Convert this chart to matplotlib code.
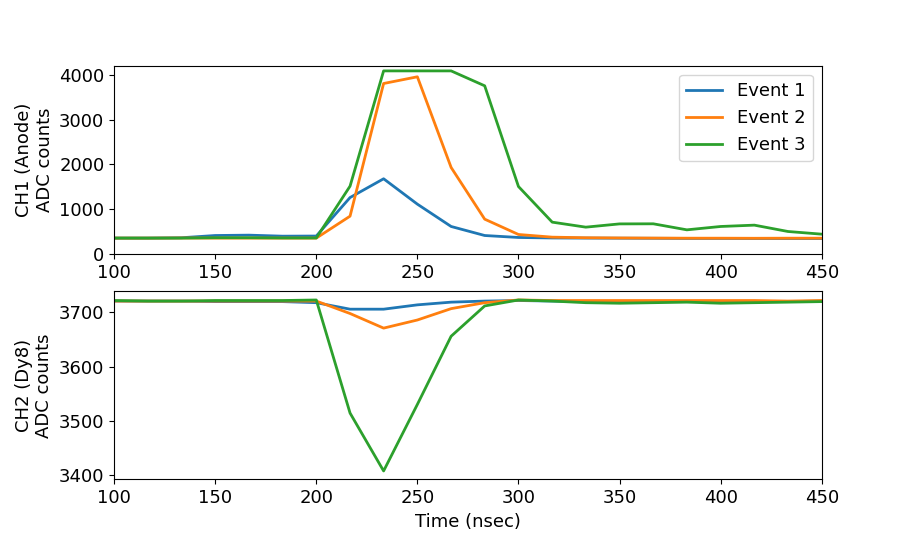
import numpy as np
import matplotlib
matplotlib.use("Agg")
import matplotlib.pyplot as plt

# time samples (nsec), 60 MHz sampling
time_ns = [100.0, 116.7, 133.3, 150.0, 166.7, 183.3, 200.0, 216.7, 233.3, 250.0, 266.7,
           283.3, 300.0, 316.7, 333.3, 350.0, 366.7, 383.3, 400.0, 416.7, 433.3, 450.0]

ch1_event1 = [352, 352, 360, 410, 418, 395, 398, 1260, 1680, 1112, 612,
              410, 366, 355, 352, 350, 348, 345, 345, 343, 343, 343]
ch1_event2 = [352, 352, 355, 352, 352, 352, 352, 843, 3813, 3963, 1933,
              776, 433, 373, 360, 355, 352, 350, 350, 348, 350, 350]
ch1_event3 = [352, 352, 352, 360, 360, 355, 355, 1515, 4095, 4095, 4095,
              3761, 1507, 709, 597, 670, 672, 537, 612, 642, 500, 440]

ch2_event1 = [3721, 3721, 3721, 3720, 3720, 3720, 3718, 3706, 3706, 3714, 3719,
              3721, 3722, 3721, 3720, 3720, 3720, 3720, 3720, 3720, 3720, 3721]
ch2_event2 = [3721, 3721, 3721, 3721, 3721, 3721, 3721, 3698, 3671, 3686, 3707,
              3718, 3723, 3722, 3722, 3722, 3722, 3722, 3722, 3722, 3721, 3722]
ch2_event3 = [3722, 3721, 3721, 3722, 3722, 3722, 3723, 3514, 3407, 3530, 3656,
              3712, 3723, 3721, 3718, 3717, 3718, 3719, 3717, 3718, 3719, 3720]

labels = ["Event 1", "Event 2", "Event 3"]
colors = ["#1f77b4", "#ff7f0e", "#2ca02c"]
FS = 13

fig, (ax1, ax2) = plt.subplots(2, 1, figsize=(9.13, 5.48), dpi=100)
fig.subplots_adjust(left=0.125, right=0.9, top=0.88, bottom=0.125, hspace=0.2)

for y, lab, c in zip([ch1_event1, ch1_event2, ch1_event3], labels, colors):
    ax1.plot(time_ns, y, color=c, lw=2, label=lab)
for y, lab, c in zip([ch2_event1, ch2_event2, ch2_event3], labels, colors):
    ax2.plot(time_ns, y, color=c, lw=2, label=lab)

ax1.set_xlim(100, 450)
ax1.set_ylim(0, 4210)
ax2.set_xlim(100, 450)

ax1.set_ylabel("CH1 (Anode)\nADC counts", fontsize=FS)
ax2.set_ylabel("CH2 (Dy8)\nADC counts", fontsize=FS)
ax2.set_xlabel("Time (nsec)", fontsize=FS)
for ax in (ax1, ax2):
    ax.tick_params(labelsize=FS)
ax1.legend(loc="upper right", fontsize=FS)

fig.savefig("out.png", dpi=100)
